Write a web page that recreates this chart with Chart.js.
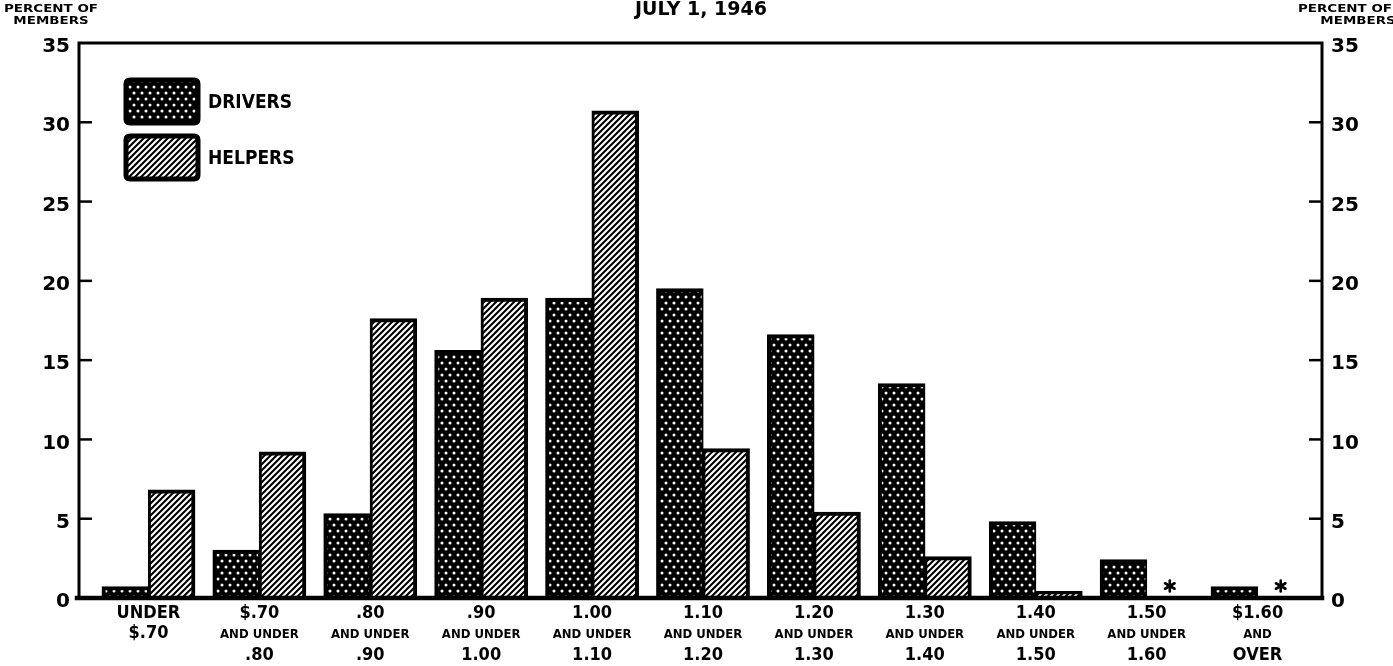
<!DOCTYPE html>
<html><head><meta charset="utf-8">
<script src="https://cdn.jsdelivr.net/npm/chart.js@4/dist/chart.umd.min.js"></script>
<style>html,body{margin:0;padding:0;background:#fff}#wrap{position:relative;width:1393px;height:666px}</style>
</head><body><div id="wrap"><canvas id="c" width="1393" height="666"></canvas></div>
<script>
// ---- data ----
const categories = [
  ['UNDER','$.70'],
  ['$.70','AND UNDER','.80'],
  ['.80','AND UNDER','.90'],
  ['.90','AND UNDER','1.00'],
  ['1.00','AND UNDER','1.10'],
  ['1.10','AND UNDER','1.20'],
  ['1.20','AND UNDER','1.30'],
  ['1.30','AND UNDER','1.40'],
  ['1.40','AND UNDER','1.50'],
  ['1.50','AND UNDER','1.60'],
  ['$1.60','AND','OVER']
];
const drivers = [0.7, 3.0, 5.3, 15.6, 18.9, 19.5, 16.6, 13.5, 4.8, 2.4, 0.7];
const helpers = [6.8, 9.2, 17.6, 18.9, 30.7, 9.4, 5.4, 2.6, 0.4, null, null];
const helperNotes = ['', '', '', '', '', '', '', '', '', '*', '*'];
const seriesNames = ['DRIVERS', 'HELPERS'];
const yMin = 0, yMax = 35, yStep = 5;
const titleText = 'JULY 1, 1946';
const axisTitle = ['PERCENT OF', 'MEMBERS'];

// ---- patterns ----
function dotPattern() {
  const w = 8, h = 12;
  const c = document.createElement('canvas'); c.width = w; c.height = h;
  const g = c.getContext('2d');
  g.fillStyle = '#000'; g.fillRect(0, 0, w, h);
  g.fillStyle = '#fff';
  [[2, 3], [6, 9]].forEach(([x, y]) => { g.beginPath(); g.arc(x, y, 1.5, 0, Math.PI * 2); g.fill(); });
  return g.createPattern(c, 'repeat');
}
function hatchPattern() {
  const s = 6;
  const c = document.createElement('canvas'); c.width = s; c.height = s;
  const g = c.getContext('2d');
  g.fillStyle = '#fff'; g.fillRect(0, 0, s, s);
  g.strokeStyle = '#000'; g.lineWidth = 2.1;
  [[0, s, s, 0], [-s / 2, s / 2, s / 2, -s / 2], [s / 2, s * 1.5, s * 1.5, s / 2]].forEach(([a, b, cc, d]) => {
    g.beginPath(); g.moveTo(a, b); g.lineTo(cc, d); g.stroke();
  });
  return g.createPattern(c, 'repeat');
}
const dots = dotPattern();
const hatch = hatchPattern();

const BIG = 'bold 18px "DejaVu Sans Condensed", "DejaVu Sans", sans-serif';
const SMALL = 'bold 13px "DejaVu Sans Condensed", "DejaVu Sans", sans-serif';

function roundRect(ctx, x, y, w, h, r) {
  ctx.beginPath();
  ctx.moveTo(x + r, y); ctx.lineTo(x + w - r, y); ctx.quadraticCurveTo(x + w, y, x + w, y + r);
  ctx.lineTo(x + w, y + h - r); ctx.quadraticCurveTo(x + w, y + h, x + w - r, y + h);
  ctx.lineTo(x + r, y + h); ctx.quadraticCurveTo(x, y + h, x, y + h - r);
  ctx.lineTo(x, y + r); ctx.quadraticCurveTo(x, y, x + r, y);
  ctx.closePath();
}

const decor = {
  id: 'decor',
  afterDraw(chart) {
    const ctx = chart.ctx;
    const xs = chart.scales.x, ys = chart.scales.y;
    const L = 79, R = 1322, T = ys.getPixelForValue(yMax), B = ys.getPixelForValue(yMin);
    ctx.save();
    ctx.strokeStyle = '#000'; ctx.lineCap = 'square';
    // frame
    ctx.lineWidth = 3;
    ctx.beginPath(); ctx.moveTo(L, B); ctx.lineTo(L, T); ctx.lineTo(R, T); ctx.lineTo(R, B); ctx.stroke();
    ctx.lineWidth = 4.5;
    ctx.beginPath(); ctx.moveTo(L - 2, B); ctx.lineTo(R, B); ctx.stroke();
    // inner ticks
    ctx.lineWidth = 2.5; ctx.lineCap = 'butt';
    for (let v = yMin + yStep; v < yMax; v += yStep) {
      const y = ys.getPixelForValue(v);
      ctx.beginPath(); ctx.moveTo(L, y); ctx.lineTo(L + 13, y); ctx.stroke();
      ctx.beginPath(); ctx.moveTo(R - 13, y); ctx.lineTo(R, y); ctx.stroke();
    }
    // x labels
    ctx.fillStyle = '#000'; ctx.textAlign = 'center'; ctx.textBaseline = 'middle';
    categories.forEach((lines, i) => {
      const x = xs.getPixelForValue(i);
      if (lines.length === 3) {
        ctx.font = BIG; ctx.fillText(lines[0], x, 613);
        ctx.font = SMALL; ctx.fillText(lines[1], x, 635);
        ctx.font = BIG; ctx.fillText(lines[2], x, 655);
      } else {
        ctx.font = BIG; ctx.fillText(lines[0], x, 613);
        ctx.fillText(lines[1], x, 633);
      }
    });
    // asterisk notes
    const m0 = chart.getDatasetMeta(0), m1 = chart.getDatasetMeta(1);
    helperNotes.forEach((n, i) => {
      if (!n) return;
      const d = m0.data[i];
      const hx = m1.data[i] && isFinite(m1.data[i].x) ? m1.data[i].x : d.x + d.width;
      const cy = B - 12, r = 5.5;
      ctx.lineWidth = 2.6; ctx.lineCap = 'round';
      for (let k = 0; k < 3; k++) {
        const a = Math.PI / 2 + k * Math.PI / 3;
        ctx.beginPath(); ctx.moveTo(hx - r * Math.cos(a), cy - r * Math.sin(a)); ctx.lineTo(hx + r * Math.cos(a), cy + r * Math.sin(a)); ctx.stroke();
      }
    });
    // legend
    const pats = [dots, hatch];
    const ly = [80, 136];
    ctx.lineCap = 'butt';
    seriesNames.forEach((name, k) => {
      roundRect(ctx, 126, ly[k], 72, 43, 4);
      ctx.fillStyle = pats[k]; ctx.fill();
      ctx.lineWidth = 5; ctx.strokeStyle = '#000'; ctx.stroke();
      ctx.fillStyle = '#000'; ctx.font = 'bold 19px "DejaVu Sans Condensed", "DejaVu Sans", sans-serif';
      ctx.textAlign = 'left'; ctx.textBaseline = 'middle';
      ctx.fillText(name, 208, ly[k] + 23);
    });
    // title
    ctx.textAlign = 'center'; ctx.textBaseline = 'alphabetic';
    ctx.font = 'bold 19px "DejaVu Sans", sans-serif';
    ctx.fillText(titleText, 701, 15);
    // axis titles
    ctx.font = 'bold 11px "DejaVu Sans", sans-serif';
    ctx.textBaseline = 'middle';
    const drawWide = (t, cx, cy) => {
      ctx.save(); ctx.translate(cx, cy); ctx.scale(1.22, 1); ctx.textAlign = 'center'; ctx.fillText(t, 0, 0); ctx.restore();
    };
    drawWide(axisTitle[0], 51, 9);
    drawWide(axisTitle[1], 51, 21);
    drawWide(axisTitle[0], 1345, 9);
    drawWide(axisTitle[1], 1358, 21);
    ctx.restore();
  }
};

const tickFont = { family: '"DejaVu Sans", sans-serif', size: 20, weight: 'bold' };

new Chart(document.getElementById('c'), {
  type: 'bar',
  data: {
    labels: categories.map(l => l.join(' ')),
    datasets: [
      { label: seriesNames[0], data: drivers, backgroundColor: dots, borderColor: '#000',
        borderWidth: { top: 4, left: 4, right: 2, bottom: 0 }, borderSkipped: 'start', inflateAmount: 0.6, yAxisID: 'y' },
      { label: seriesNames[1], data: helpers, backgroundColor: hatch, borderColor: '#000',
        borderWidth: { top: 4, left: 3, right: 4, bottom: 0 }, borderSkipped: 'start', inflateAmount: 0.6, yAxisID: 'y' }
    ]
  },
  options: {
    responsive: false,
    animation: false,
    devicePixelRatio: 1,
    layout: { padding: { top: 43, left: 0, right: 0, bottom: 0 } },
    datasets: { bar: { categoryPercentage: 0.835, barPercentage: 1.0 } },
    plugins: { legend: { display: false }, tooltip: { enabled: false }, title: { display: false } },
    scales: {
      x: {
        display: true,
        grid: { display: false, drawTicks: false },
        border: { display: false },
        ticks: { display: false },
        afterFit: s => { s.height = 68; }
      },
      y: {
        position: 'left', min: yMin, max: yMax,
        grid: { display: false, drawTicks: false },
        border: { display: false },
        ticks: { stepSize: yStep, font: tickFont, color: '#000', padding: 23, labelOffset: 4 },
        afterFit: s => { s.width = 93; }
      },
      y2: {
        position: 'right', min: yMin, max: yMax,
        grid: { display: false, drawTicks: false },
        border: { display: false },
        ticks: { stepSize: yStep, font: tickFont, color: '#000', padding: 18, labelOffset: 4 },
        afterFit: s => { s.width = 80; }
      }
    }
  },
  plugins: [decor]
});
</script></body></html>
